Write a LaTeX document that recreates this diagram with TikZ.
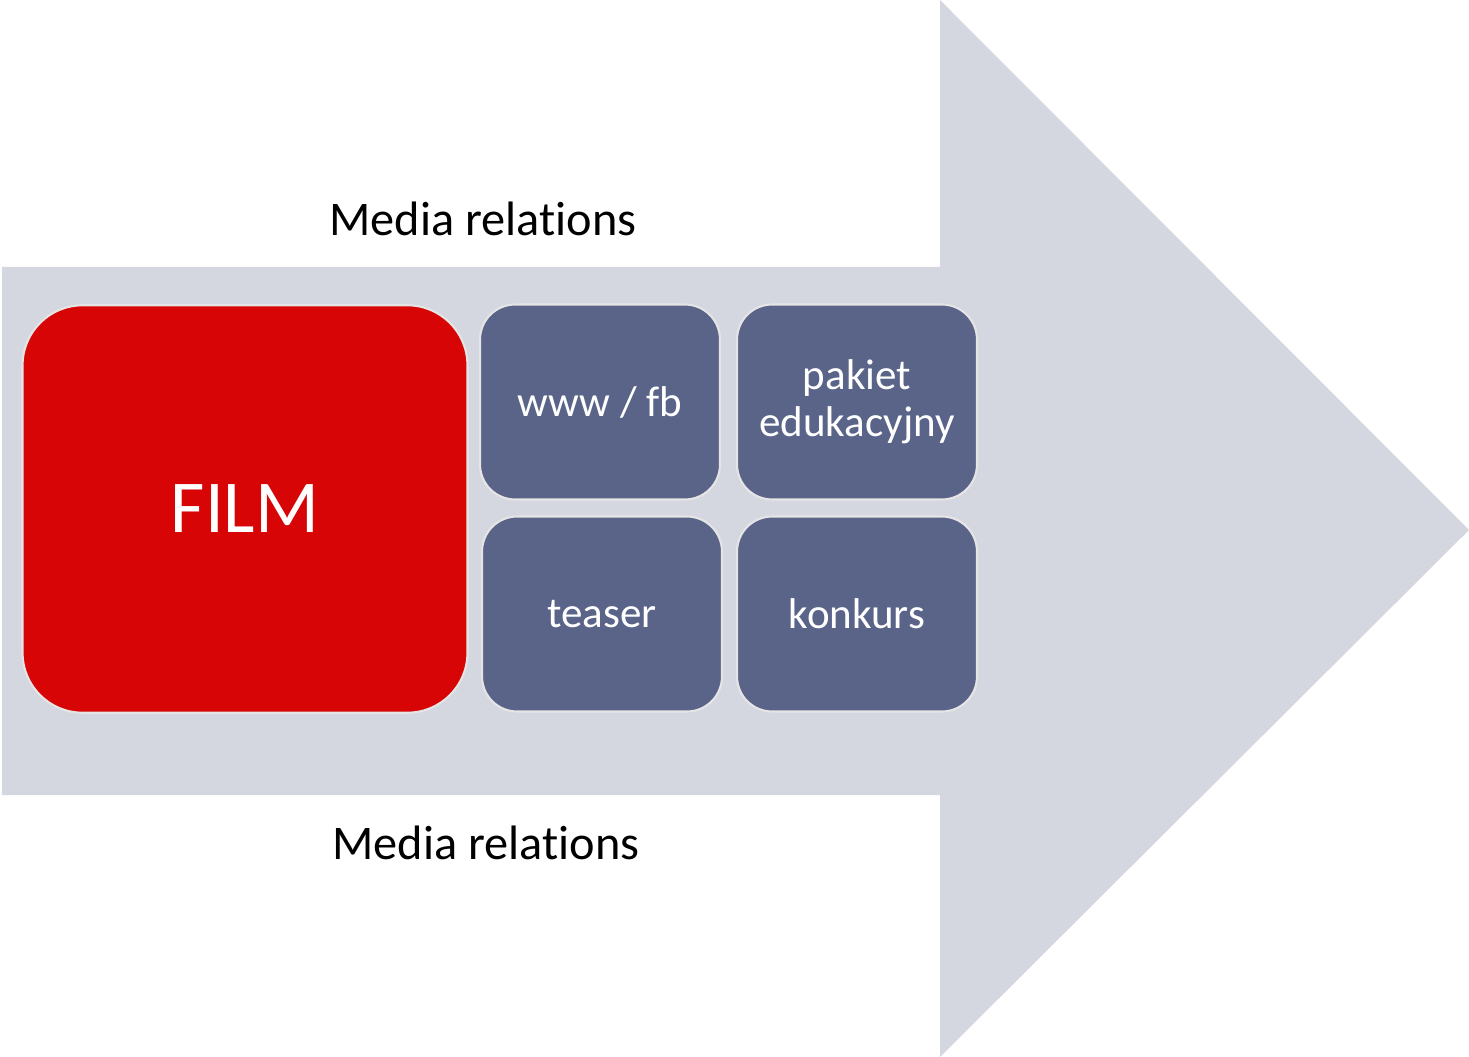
\documentclass[tikz,border=0pt]{standalone}
\usepackage{fontspec}
\setmainfont[Ligatures=NoCommon]{Carlito}
\definecolor{arrowgray}{HTML}{D4D7E0}
\definecolor{filmred}{HTML}{D70505}
\definecolor{tileblue}{HTML}{5A6489}
\begin{document}
\begin{tikzpicture}[x=0.02cm,y=-0.02cm,
  tile/.style={draw=white!80!gray, line width=1.2pt, fill=tileblue,
    rounded corners=0.7cm, minimum width=4.8cm, minimum height=3.9cm,
    text=white, align=center, font=\fontsize{24.5}{27}\selectfont},
  film/.style={tile, fill=filmred, rounded corners=1.2cm,
    minimum width=8.9cm, minimum height=8.15cm, font=\fontsize{42.5}{46}\selectfont},
  label/.style={font=\fontsize{27.5}{30}\selectfont}]
  \useasboundingbox (0,0) rectangle (1469,1057);
  \fill[arrowgray] (2,267) -- (940,267) -- (940,0) -- (1469,530)
    -- (940,1057) -- (940,795) -- (2,795) -- cycle;
  \node[film] (film) at (245,509) {FILM};
  \node[tile] (www) at (600,402) {www / fb};
  \node[tile] (pakiet) at (857,402) {pakiet\\edukacyjny};
  \node[tile] (teaser) at (602,614) {teaser};
  \node[tile] (konkurs) at (857,614) {konkurs};
  \node[label] (top) at (483,219) {Media relations};
  \node[label] (bottom) at (486,843) {Media relations};
\end{tikzpicture}
\end{document}
